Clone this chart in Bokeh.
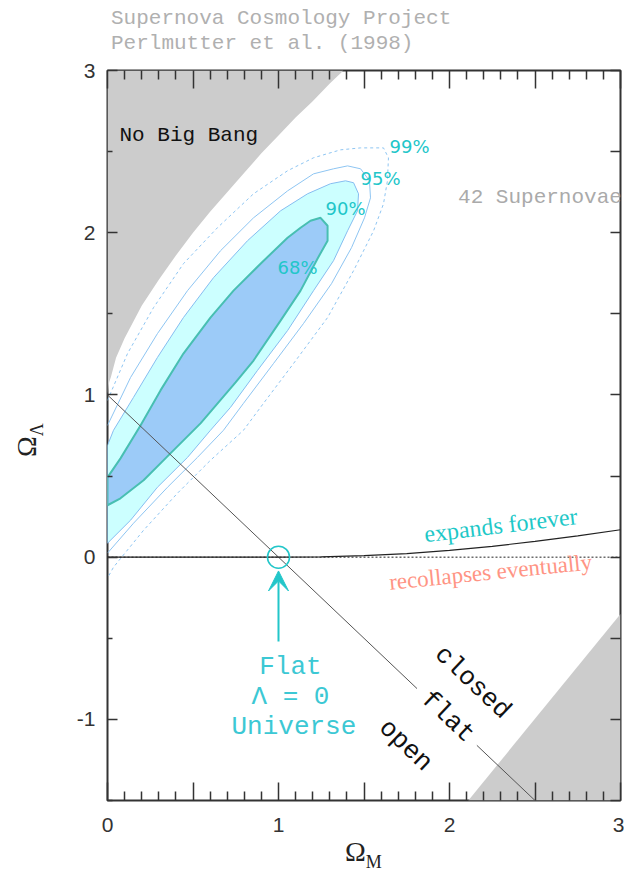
from bokeh.plotting import figure
from bokeh.models import Range1d, LinearAxis, FixedTicker, Arrow, VeeHead, Div
from bokeh.layouts import row, column
from bokeh.core.properties import value
from bokeh.embed import file_html
from bokeh.resources import INLINE

NaN = float("nan")

# ---------------- data ----------------
nbb_om = [0.0, 0.01, 0.02, 0.05, 0.1, 0.2, 0.3, 0.4, 0.5, 0.6, 0.7, 0.8, 0.9, 1.0, 1.1, 1.2, 1.3, 1.38]
nbb_ol = [1.00, 1.08, 1.11, 1.23, 1.35, 1.55, 1.71, 1.86, 2.00, 2.13, 2.25, 2.37, 2.49, 2.60, 2.71, 2.81, 2.92, 3.00]

lr_om = [2.11, 3.0]
lr_ol = [-1.5, -0.35]

ef_om = [0.0, 1.0, 1.25, 1.5, 1.75, 2.0, 2.25, 2.5, 2.75, 3.0]
ef_ol = [0.0, 0.0, 0.002, 0.009, 0.022, 0.042, 0.067, 0.097, 0.131, 0.169]

l0_om = [0.0, 3.0]
l0_ol = [0.0, 0.0]

# flat-universe line (interrupted where the word "flat" sits on it)
flat_om = [0.0, 1.81, NaN, 2.16, 2.5]
flat_ol = [1.0, -0.81, NaN, -1.16, -1.5]

c68_om = [0.0, 0.076, 0.193, 0.310, 0.444, 0.602, 0.737, 0.895, 1.053, 1.129, 1.187, 1.246, 1.287, 1.287,
          1.228, 1.129, 1.012, 0.854, 0.749, 0.544, 0.368, 0.211, 0.076, 0.0]
c68_ol = [0.492, 0.609, 0.812, 1.028, 1.255, 1.477, 1.643, 1.809, 1.969, 2.031, 2.074, 2.092, 2.043, 1.951,
          1.840, 1.643, 1.458, 1.212, 1.077, 0.825, 0.640, 0.474, 0.363, 0.320]

c90_om = [0.0, 0.035, 0.152, 0.292, 0.444, 0.620, 0.819, 1.012, 1.170, 1.304, 1.392, 1.439, 1.468, 1.462,
          1.404, 1.322, 1.205, 1.053, 0.877, 0.719, 0.602, 0.468, 0.292, 0.135, 0.0]
c90_ol = [0.689, 0.782, 0.985, 1.231, 1.477, 1.723, 1.951, 2.135, 2.240, 2.302, 2.320, 2.308, 2.240, 2.135,
          2.012, 1.828, 1.643, 1.397, 1.151, 0.923, 0.782, 0.615, 0.431, 0.228, 0.086]

c95_om = [0.0, 0.135, 0.292, 0.468, 0.661, 0.854, 1.053, 1.205, 1.322, 1.404, 1.480, 1.532, 1.538, 1.503,
          1.427, 1.310, 1.146, 0.971, 0.795, 0.678, 0.526, 0.351, 0.152, 0.0]
c95_ol = [0.812, 1.108, 1.378, 1.643, 1.889, 2.092, 2.258, 2.363, 2.394, 2.412, 2.394, 2.320, 2.215, 2.092,
          1.908, 1.686, 1.440, 1.194, 0.948, 0.782, 0.615, 0.431, 0.209, 0.025]

c99_om = [0.0, 0.117, 0.269, 0.444, 0.643, 0.854, 1.053, 1.205, 1.363, 1.480, 1.614, 1.643, 1.637, 1.614,
          1.556, 1.439, 1.287, 1.088, 0.912, 0.795, 0.602, 0.409, 0.211, 0.035, 0.0]
c99_ol = [0.966, 1.255, 1.538, 1.809, 2.031, 2.240, 2.382, 2.462, 2.511, 2.523, 2.523, 2.462, 2.320, 2.178,
          2.012, 1.766, 1.477, 1.194, 0.948, 0.782, 0.597, 0.394, 0.166, -0.062, -0.129]

x_ticks = [0, 0.5, 1, 1.5, 2, 2.5, 3]
x_minor = [0.1, 0.2, 0.3, 0.4, 0.6, 0.7, 0.8, 0.9, 1.1, 1.2, 1.3, 1.4, 1.6, 1.7, 1.8, 1.9,
           2.1, 2.2, 2.3, 2.4, 2.6, 2.7, 2.8, 2.9]
x_tick_labels = ["0", "", "1", "", "2", "", "3"]
y_ticks = [-1, 0, 1, 2, 3]
y_minor = [-1.5, -0.5, 0.5, 1.5, 2.5]
y_tick_labels = ["-1", "0", "1", "2", "3"]

title_lines = ["Supernova Cosmology Project", "Perlmutter et al. (1998)"]

# ---------------- styles ----------------
CYAN = "#22c6c9"
GRAY_FILL = "#cccccc"
MONO = "Liberation Mono"

p = figure(width=564, height=788, x_range=Range1d(0, 3), y_range=Range1d(-1.5, 3),
           output_backend="svg", toolbar_location=None,
           min_border_left=47, min_border_right=4, min_border_top=14, min_border_bottom=44)
p.grid.visible = False
p.outline_line_color = "#333333"
p.outline_line_width = 2
p.background_fill_color = "white"
p.border_fill_color = "white"

p.patch(nbb_om + [0.0], nbb_ol + [3.0], fill_color=GRAY_FILL, line_color=None)
p.patch(lr_om + [3.0], lr_ol + [-1.5], fill_color=GRAY_FILL, line_color=None)

p.line(c99_om, c99_ol, line_color="#8ec5f2", line_width=1, line_dash="3 3")
p.line(c95_om, c95_ol, line_color="#8ec5f2", line_width=1)
p.patch(c90_om, c90_ol, fill_color="#ccffff", line_color="#86bdf0", line_width=1)
p.patch(c68_om, c68_ol, fill_color="#9ccbf8", line_color="#48bfb2", line_width=2)

p.line(flat_om, flat_ol, line_color="#555555", line_width=1)
p.line(l0_om, l0_ol, line_color="#222222", line_width=1, line_dash="2 2")
p.line(ef_om, ef_ol, line_color="#222222", line_width=1.2)

p.scatter([1.0], [0.0], marker="circle", size=22, fill_color=None, line_color=CYAN, line_width=1.5)
p.add_layout(Arrow(end=VeeHead(size=20, fill_color=CYAN, line_color=CYAN),
                   x_start=1.0, y_start=-0.52, x_end=1.0, y_end=-0.085,
                   line_color=CYAN, line_width=2))

p.text([1.07], [-0.677], text=["Flat"], text_font=value(MONO), text_font_size="26px",
       text_color="#3cc8d4", text_align="center", text_baseline="middle")
p.text([1.07], [-0.86], text=["Λ = 0"], text_font=value(MONO), text_font_size="26px",
       text_color="#3cc8d4", text_align="center", text_baseline="middle")
p.text([1.09], [-1.046], text=["Universe"], text_font=value(MONO), text_font_size="26px",
       text_color="#3cc8d4", text_align="center", text_baseline="middle")

ang = -0.759
p.text([2.135], [-0.773], text=["closed"], angle=ang, text_font=value(MONO), text_font_size="26px",
       text_color="#111111", text_align="center", text_baseline="middle")
p.text([1.99], [-0.985], text=["flat"], angle=ang, text_font=value(MONO), text_font_size="26px",
       text_color="#111111", text_align="center", text_baseline="middle")
p.text([1.743], [-1.16], text=["open"], angle=ang, text_font=value(MONO), text_font_size="26px",
       text_color="#111111", text_align="center", text_baseline="middle")

p.text([0.07], [2.6], text=["No Big Bang"], text_font=value(MONO), text_font_size="21px",
       text_color="#111111", text_align="left", text_baseline="middle")
p.text([2.05], [2.22], text=["42 Supernovae"], text_font=value(MONO), text_font_size="21px",
       text_color="#aaaaaa", text_align="left", text_baseline="middle")

for txt, x, y in [("99%", 1.649, 2.529), ("95%", 1.48, 2.332), ("90%", 1.275, 2.148), ("68%", 0.994, 1.785)]:
    p.text([x], [y], text=[txt], text_font=value("DejaVu Sans"), text_font_size="18px",
           text_color=CYAN, text_align="left", text_baseline="middle")

p.text([2.30], [0.197], text=["expands forever"], angle=0.12, text_font=value("Liberation Serif"),
       text_font_size="24px", text_color="#1ec8c8", text_align="center", text_baseline="middle")
p.text([2.24], [-0.092], text=["recollapses eventually"], angle=0.10, text_font=value("Liberation Serif"),
       text_font_size="23px", text_color="#ff9484", text_align="center", text_baseline="middle")

# ---------------- axes ----------------
def style_axis(ax, ticks, minor, labels, major_len, minor_len):
    ax.ticker = FixedTicker(ticks=ticks, minor_ticks=minor)
    ax.axis_line_color = None
    ax.major_tick_in = major_len
    ax.major_tick_out = 0
    ax.minor_tick_in = minor_len
    ax.minor_tick_out = 0
    ax.major_tick_line_color = "#333333"
    ax.minor_tick_line_color = "#333333"
    ax.major_tick_line_width = 1.5
    ax.minor_tick_line_width = 1.5
    if labels is not None:
        ax.major_label_overrides = {t: l for t, l in zip(ticks, labels)}
        ax.major_label_text_font = "Liberation Sans"
        ax.major_label_text_font_size = "21px"
        ax.major_label_text_color = "#333333"
    else:
        ax.major_label_text_color = None
        ax.major_label_text_font_size = "0px"

style_axis(p.xaxis[0], x_ticks, x_minor, x_tick_labels, 18, 9)
p.xaxis[0].major_label_standoff = 17
style_axis(p.yaxis[0], y_ticks, y_minor, y_tick_labels, 10, 5)
p.yaxis[0].major_label_standoff = 12

top = LinearAxis()
style_axis(top, x_ticks, x_minor, None, 18, 9)
p.add_layout(top, "above")
right = LinearAxis()
style_axis(right, y_ticks, y_minor, None, 10, 10)
p.add_layout(right, "right")

# ---------------- texts outside the frame (real HTML text) ----------------
tdiv = Div(text=(
    '<div style="padding:6px 0 0 111px;font-family:\'Liberation Mono\';font-size:21px;line-height:25px;'
    'color:#b0b0b0;white-space:nowrap;">' + title_lines[0] + '<br>' + title_lines[1] + '</div>'),
    width=624, height=56, margin=(0, 0, 0, 0))

ylab = Div(text=(
    '<div style="position:relative;width:60px;height:788px;">'
    '<div style="position:absolute;left:12px;top:366px;width:36px;height:34px;'
    'transform:rotate(-90deg);font-family:\'Liberation Serif\';font-size:28px;line-height:28px;'
    'color:#222222;white-space:nowrap;">Ω<sub style="font-size:18px;">Λ</sub></div></div>'),
    width=60, height=788, margin=(0, 0, 0, 0))

xlab = Div(text=(
    '<div style="padding-left:345px;font-family:\'Liberation Serif\';font-size:28px;line-height:16px;'
    'color:#222222;white-space:nowrap;">Ω<sub style="font-size:18px;">M</sub></div>'),
    width=624, height=36, margin=(0, 0, 0, 0))

layout = column(tdiv, row(ylab, p, spacing=0), xlab, spacing=0)
open("out.html", "w").write(file_html(layout, INLINE))
